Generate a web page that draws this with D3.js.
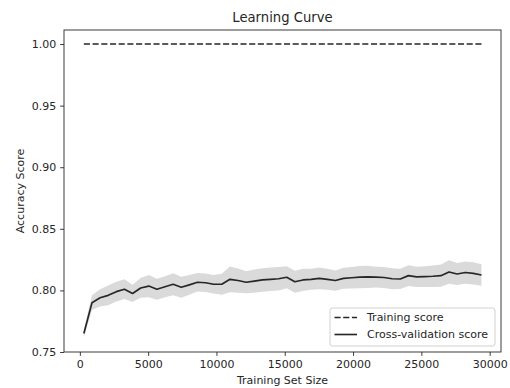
<!DOCTYPE html>
<html>
<head>
<meta charset="utf-8">
<script src="https://cdn.jsdelivr.net/npm/d3@7"></script>
<style>
  html, body { margin: 0; padding: 0; background: #fff; }
  svg { display: block; font-family: "DejaVu Sans", sans-serif; }
</style>
</head>
<body>
<svg id="chart" width="510" height="388"></svg>
<script>
// ---- data ----
const trainSizes = d3.range(50).map(i => 294 + 594 * i);
const trainMean = trainSizes.map(() => 1.0);
const testMean = [
  0.765, 0.790, 0.794, 0.796, 0.799, 0.801, 0.7975, 0.802, 0.8035, 0.801,
  0.803, 0.805, 0.8025, 0.8045, 0.8066, 0.8062, 0.805, 0.805, 0.809, 0.808,
  0.8066, 0.8075, 0.8085, 0.809, 0.8095, 0.8107, 0.807, 0.8085, 0.809, 0.8098,
  0.809, 0.808, 0.8098, 0.8103, 0.8108, 0.811, 0.8108, 0.8105, 0.8095, 0.8093,
  0.812, 0.811, 0.8112, 0.8115, 0.812, 0.815, 0.8133, 0.8145, 0.8138, 0.8125
];
const testStd = [
  0.003, 0.006, 0.007, 0.008, 0.008, 0.008, 0.007, 0.008, 0.009, 0.0085,
  0.0085, 0.009, 0.0085, 0.008, 0.0075, 0.0075, 0.0075, 0.0085, 0.0105, 0.0098,
  0.009, 0.0095, 0.0095, 0.0095, 0.0095, 0.009, 0.009, 0.009, 0.0085, 0.0088,
  0.0085, 0.0082, 0.0085, 0.0088, 0.009, 0.009, 0.0085, 0.0085, 0.0085, 0.0082,
  0.0085, 0.0082, 0.0085, 0.0088, 0.009, 0.0095, 0.009, 0.009, 0.009, 0.0088
];
const xTicks = [0, 5000, 10000, 15000, 20000, 25000, 30000];
const yTicks = [0.75, 0.80, 0.85, 0.90, 0.95, 1.00];
const seriesNames = ["Training score", "Cross-validation score"];
const titleText = "Learning Curve";
const xLabel = "Training Set Size";
const yLabel = "Accuracy Score";

// ---- layout ----
const svg = d3.select("#chart");
const L = 64, R = 501, T = 30, B = 352;
const x = d3.scaleLinear().domain([-1160, 30830]).range([L, R]);
const y = d3.scaleLinear().domain([0.75, 1.0114]).range([B, T]);
const ink = "#262626";
const lw = 1.65;
const dash = "6.1,2.6";

// band
const band = d3.area()
  .x((d, i) => x(trainSizes[i]))
  .y0((d, i) => y(testMean[i] - testStd[i]))
  .y1((d, i) => y(testMean[i] + testStd[i]));
svg.append("path").datum(testMean).attr("d", band)
  .attr("fill", "#dadada").attr("stroke", "none");

// lines
const line = arr => d3.line().x((d, i) => x(trainSizes[i])).y(d => y(d))(arr);
svg.append("path").attr("d", line(trainMean))
  .attr("fill", "none").attr("stroke", ink).attr("stroke-width", lw)
  .attr("stroke-dasharray", dash);
svg.append("path").attr("d", line(testMean))
  .attr("fill", "none").attr("stroke", ink).attr("stroke-width", lw)
  .attr("stroke-linejoin", "round");

// axes
const xAxis = d3.axisBottom(x).tickValues(xTicks).tickFormat(d3.format("d")).tickSize(3.9).tickPadding(4.5);
const yAxis = d3.axisLeft(y).tickValues(yTicks).tickFormat(d3.format(".2f")).tickSize(3.9).tickPadding(3.9);
const gx = svg.append("g").attr("transform", `translate(0,${B})`).call(xAxis);
const gy = svg.append("g").attr("transform", `translate(${L},0)`).call(yAxis);
[gx, gy].forEach(g => {
  g.select(".domain").remove();
  g.selectAll("line").attr("stroke", ink).attr("stroke-width", 0.9);
  g.selectAll("text").attr("fill", ink).style("font-size", "11px")
    .style("font-family", "DejaVu Sans, sans-serif");
});
svg.append("rect").attr("x", L).attr("y", T).attr("width", R - L).attr("height", B - T)
  .attr("fill", "none").attr("stroke", ink).attr("stroke-width", 0.9);

// titles
svg.append("text").attr("x", (L + R) / 2).attr("y", 22).attr("text-anchor", "middle")
  .attr("fill", ink).style("font-size", "13.2px").text(titleText);
svg.append("text").attr("x", (L + R) / 2).attr("y", 384).attr("text-anchor", "middle")
  .attr("fill", ink).style("font-size", "11px").text(xLabel);
svg.append("text").attr("transform", `translate(24,${(T + B) / 2}) rotate(-90)`)
  .attr("text-anchor", "middle").attr("fill", ink).style("font-size", "11px").text(yLabel);

// legend
const lg = svg.append("g").attr("transform", "translate(330,308)");
lg.append("rect").attr("width", 165).attr("height", 38).attr("rx", 2.5)
  .attr("fill", "#fff").attr("fill-opacity", 0.85).attr("stroke", "#cccccc").attr("stroke-width", 0.9);
seriesNames.forEach((name, i) => {
  const yy = 9.5 + i * 17;
  lg.append("line").attr("x1", 4.5).attr("x2", 27).attr("y1", yy).attr("y2", yy)
    .attr("stroke", ink).attr("stroke-width", lw)
    .attr("stroke-dasharray", i === 0 ? dash : null);
  lg.append("text").attr("x", 37).attr("y", yy).attr("dy", "0.35em")
    .attr("fill", ink).style("font-size", "11px").text(name);
});
</script>
</body>
</html>
